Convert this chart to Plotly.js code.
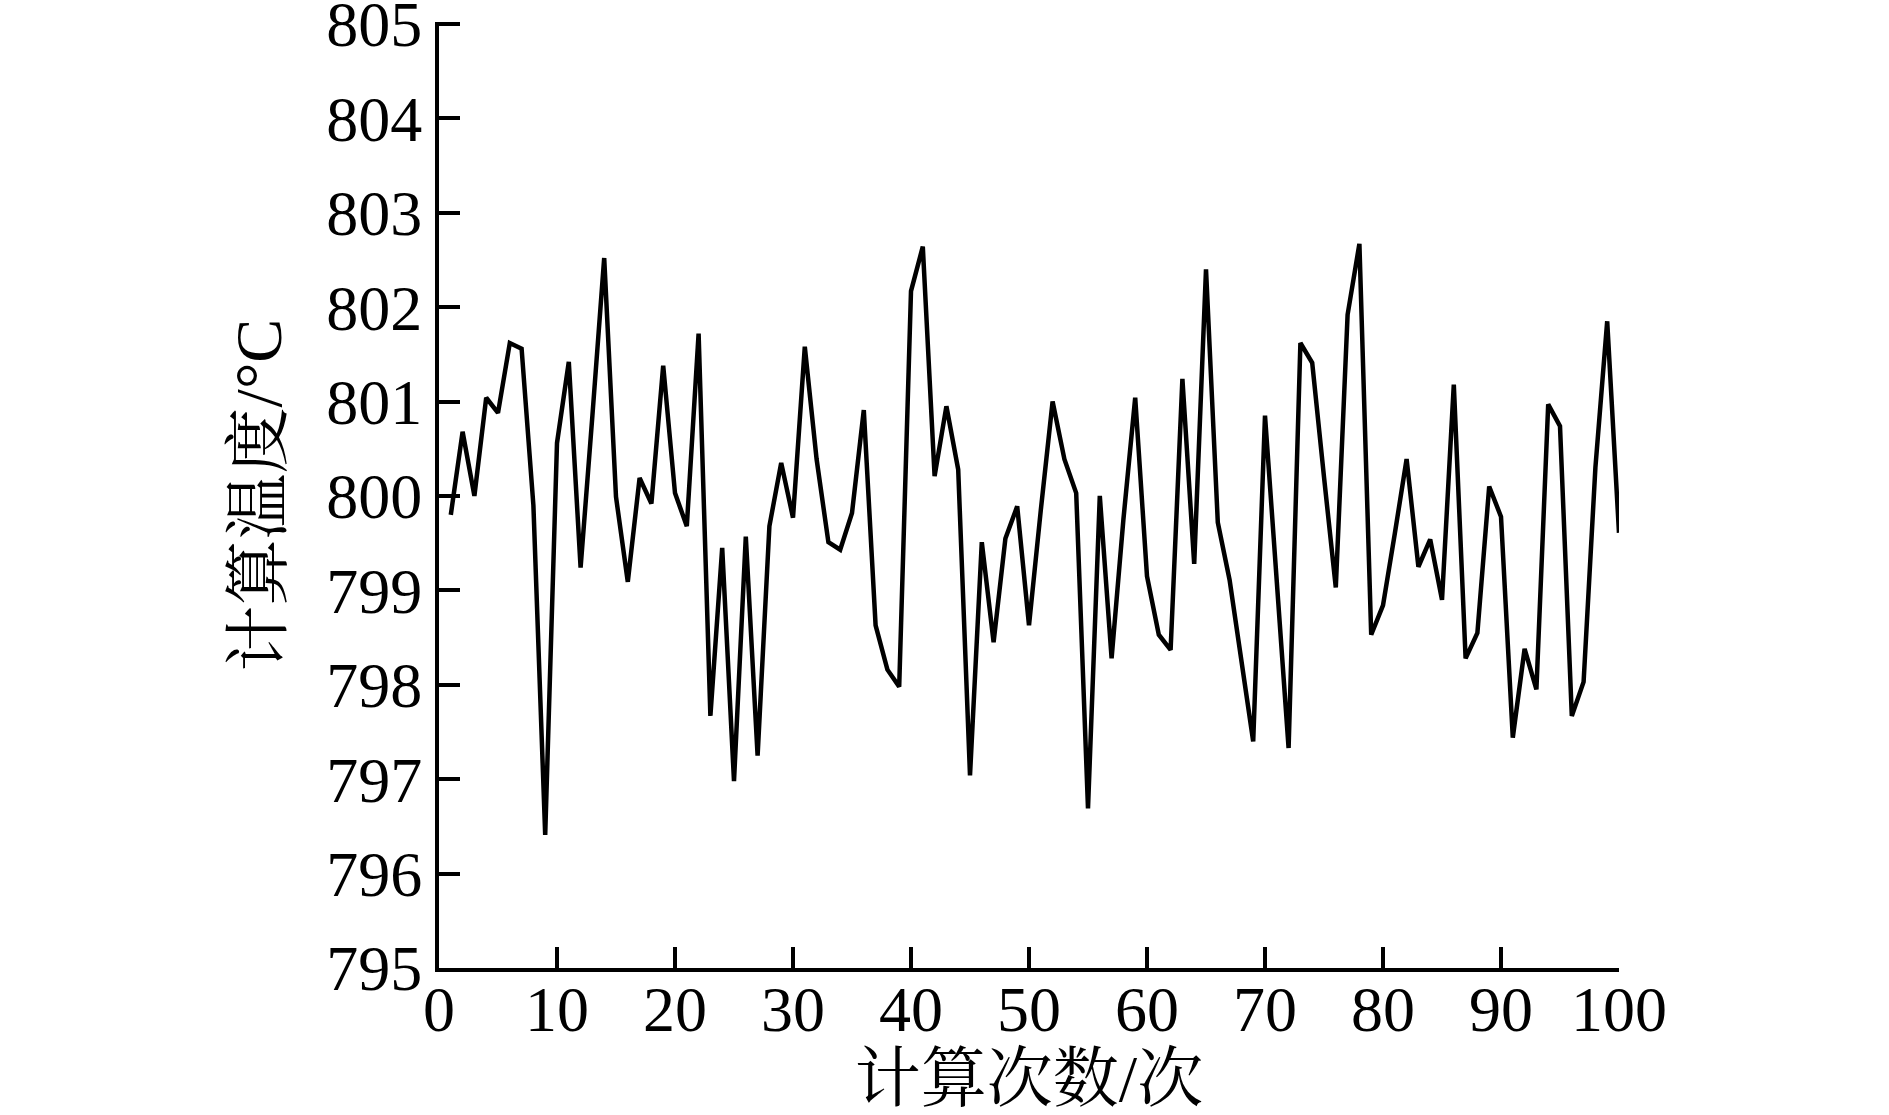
<!DOCTYPE html>
<html>
<head>
<meta charset="utf-8">
<script src="https://cdn.plot.ly/plotly-3.0.1.min.js"></script>
<style>
  html, body { margin: 0; padding: 0; background: #fff; }
  #chart { width: 1889px; height: 1115px; }
</style>
</head>
<body>
<div id="chart"></div>
<script>
// calculated temperature for each of the 100 calculation runs
var temps = [
  799.80, 800.68, 800.00, 801.04, 800.88, 801.62, 801.56, 799.90, 796.41, 800.56,
  801.42, 799.24, 800.85, 802.52, 799.99, 799.09, 800.19, 799.92, 801.38, 800.03,
  799.68, 801.72, 797.67, 799.45, 796.98, 799.57, 797.25, 799.68, 800.35, 799.77,
  801.58, 800.39, 799.51, 799.43, 799.82, 800.91, 798.63, 798.16, 797.98, 802.17,
  802.64, 800.21, 800.95, 800.28, 797.04, 799.51, 798.45, 799.55, 799.89, 798.63,
  799.85, 801.00, 800.39, 800.03, 796.69, 800.00, 798.28, 799.75, 801.04, 799.15,
  798.53, 798.37, 801.24, 799.28, 802.40, 799.72, 799.11, 798.28, 797.40, 800.85,
  799.10, 797.33, 801.62, 801.41, 800.20, 799.03, 801.92, 802.67, 798.53, 798.84,
  799.60, 800.39, 799.25, 799.54, 798.90, 801.18, 798.28, 798.55, 800.10, 799.78,
  797.44, 798.38, 797.95, 800.97, 800.74, 797.67, 798.03, 800.30, 801.85, 799.61
];
// run number 1..100
var runs = temps.map(function (t, i) { return i + 1; });

var xTicks = [0, 10, 20, 30, 40, 50, 60, 70, 80, 90, 100];
var yTicks = [795, 796, 797, 798, 799, 800, 801, 802, 803, 804, 805];

var xTitle = "计算次数/次";
var yTitle = "计算温度/°C";

var font = "Liberation Serif, Times New Roman, Noto Serif CJK SC, Noto Sans CJK SC, serif";

var trace = {
  x: runs,
  y: temps,
  type: "scatter",
  mode: "lines",
  line: { color: "#000", width: 4.5 },
  hoverinfo: "x+y"
};

var layout = {
  width: 1889,
  height: 1115,
  showlegend: false,
  paper_bgcolor: "#fff",
  plot_bgcolor: "#fff",
  font: { family: font, size: 64, color: "#000" },
  // top margin a touch smaller because the y range pokes a hair above 805
  margin: { l: 439, r: 270, t: 22, b: 147, pad: 0 },
  xaxis: {
    range: [0, 100],
    tickvals: xTicks,
    ticktext: xTicks.map(String),
    ticks: "inside",
    ticklen: 21,
    tickwidth: 4,
    tickcolor: "#000",
    ticklabelstandoff: -18,
    ticklabeloverflow: "allow",
    showline: true,
    linewidth: 4,
    linecolor: "#000",
    showgrid: false,
    zeroline: false,
    tickfont: { family: font, size: 64 },
    title: { text: xTitle, font: { family: font, size: 66 }, standoff: 44 }
  },
  yaxis: {
    range: [795, 805.02], // so the 805 tick is still drawn
    tickvals: yTicks,
    ticktext: yTicks.map(String),
    ticks: "inside",
    ticklen: 21,
    tickwidth: 4,
    tickcolor: "#000",
    ticklabeloverflow: "allow",
    showline: true,
    linewidth: 4,
    linecolor: "#000",
    showgrid: false,
    zeroline: false,
    tickfont: { family: font, size: 64 },
    title: { text: yTitle, font: { family: font, size: 66 }, standoff: 24 }
  }
};

Plotly.newPlot("chart", [trace], layout, { displayModeBar: false, staticPlot: true });
</script>
</body>
</html>
